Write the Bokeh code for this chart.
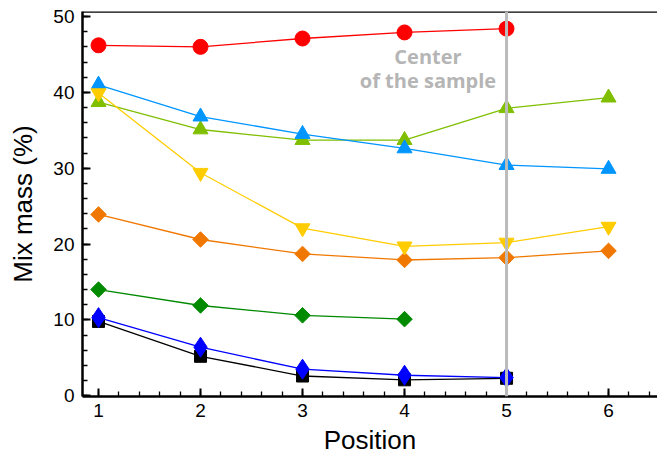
import math
from bokeh.plotting import figure
from bokeh.embed import file_html
from bokeh.resources import INLINE
from bokeh.models import SingleIntervalTicker, Span, Label, Range1d

positions = [1, 2, 3, 4, 5, 6]

red_circle = [46.2, 46.0, 47.1, 47.9, 48.4]
lightblue_tri = [41.0, 36.8, 34.5, 32.6, 30.4, 29.9]
lime_tri = [38.7, 35.1, 33.7, 33.7, 37.9, 39.3]
yellow_inv = [39.9, 29.4, 22.1, 19.7, 20.2, 22.3]
orange_dia = [23.9, 20.6, 18.7, 17.9, 18.2, 19.1]
green_dia = [14.0, 11.9, 10.6, 10.1]
blue_dia = [10.3, 6.4, 3.5, 2.7, 2.4]
black_sq = [9.8, 5.2, 2.6, 2.1, 2.3]

center_pos = 5
x_label = "Position"
y_label = "Mix mass (%)"

p = figure(width=657, height=459, output_backend="svg", toolbar_location=None,
           x_range=Range1d(0.843, 6.48), y_range=Range1d(-0.1, 50.66),
           min_border_left=82, min_border_top=11, min_border_bottom=63, min_border_right=0)
p.outline_line_color = None
p.grid.visible = False
p.background_fill_color = "white"
p.border_fill_color = "white"

p.xaxis.ticker = SingleIntervalTicker(interval=1, num_minor_ticks=5)
p.yaxis.ticker = SingleIntervalTicker(interval=10, num_minor_ticks=5)
for ax in (p.xaxis[0], p.yaxis[0]):
    ax.axis_line_width = 2.5
    ax.axis_line_color = "black"
    ax.major_tick_in = 8
    ax.major_tick_out = 0
    ax.minor_tick_in = 5
    ax.minor_tick_out = 0
    ax.major_tick_line_width = 2
    ax.minor_tick_line_width = 1.3
    ax.major_label_text_font = "Liberation Sans"
    ax.major_label_text_font_size = "19px"
    ax.major_label_text_color = "black"
    ax.axis_label_text_font = "Liberation Sans"
    ax.axis_label_text_font_size = "26px"
    ax.axis_label_text_font_style = "normal"
    ax.axis_label_text_color = "black"
p.xaxis.axis_label = x_label
p.yaxis.axis_label = y_label
p.xaxis.major_label_standoff = 7
p.yaxis.major_label_standoff = 8
p.xaxis.axis_label_standoff = 5
p.yaxis.axis_label_standoff = 12

top = Span(location=50.66, dimension="width", line_color="black", line_width=2.5)
p.add_layout(top)

vline = Span(location=center_pos, dimension="height", line_color="#bbbbbb", line_width=3)
p.add_layout(vline)

for txt, yy in (("Center", 44.7), ("of the sample", 41.6)):
    p.add_layout(Label(x=4.23, y=yy, text=txt, text_align="center", text_baseline="middle",
                       text_font="Open Sans", text_font_style="bold", text_font_size="20px",
                       text_color="#b5b5b5"))

lw = 1.3

def series(ys, color, marker, size, angle=0.0):
    xs = positions[:len(ys)]
    p.line(xs, ys, line_color=color, line_width=lw)
    p.scatter(xs, ys, marker=marker, size=size, angle=angle, fill_color=color, line_color=color)

series(black_sq, "black", "square", 12)
series(blue_dia, "#0000ff", "diamond", 20)
series(green_dia, "#008a00", "square", 11, math.pi / 4)
series(orange_dia, "#f07800", "square", 11, math.pi / 4)
series(lime_tri, "#7fbf00", "triangle", 15)
series(lightblue_tri, "#0095ff", "triangle", 15)
series(yellow_inv, "#ffcc00", "inverted_triangle", 15)
series(red_circle, "#ff0000", "circle", 15)

open("out.html", "w").write(file_html(p, INLINE))
